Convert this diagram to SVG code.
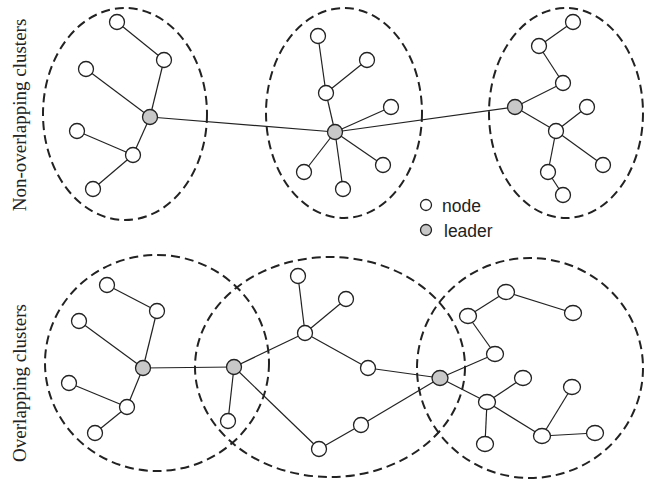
<svg xmlns="http://www.w3.org/2000/svg" width="652" height="481" viewBox="0 0 652 481">
<style>
.cl{fill:none;stroke:#222;stroke-width:2;stroke-dasharray:9,5}
.e line{stroke:#222;stroke-width:1.2}
.n{fill:#fff;stroke:#222;stroke-width:1.3}
.l{fill:#c8c8c8;stroke:#222;stroke-width:1.3}
.side{font-family:"Liberation Serif","Times New Roman",serif;font-size:19px;fill:#222}
.leg{font-family:"Liberation Sans",Arial,sans-serif;font-size:17.5px;fill:#222}
</style>
<rect width="652" height="481" fill="#fff"/>
<g id="clusters">
<ellipse class="cl" cx="125" cy="114" rx="82" ry="106"/>
<ellipse class="cl" cx="344" cy="113" rx="78" ry="105"/>
<ellipse class="cl" cx="566" cy="113" rx="77" ry="105"/>
<ellipse class="cl" cx="157" cy="363" rx="112" ry="108"/>
<ellipse class="cl" cx="330" cy="367" rx="135" ry="110"/>
<ellipse class="cl" cx="530" cy="368" rx="113" ry="110"/>
</g>
<g id="connectors" class="e">
<line x1="117" y1="22" x2="164" y2="60"/>
<line x1="164" y1="60" x2="150" y2="117"/>
<line x1="86" y1="69" x2="150" y2="117"/>
<line x1="150" y1="117" x2="133" y2="155"/>
<line x1="77" y1="131" x2="133" y2="155"/>
<line x1="133" y1="155" x2="93" y2="189"/>
<line x1="150" y1="117" x2="335" y2="132"/>
<line x1="335" y1="132" x2="515" y2="107"/>
<line x1="318" y1="36" x2="326" y2="93"/>
<line x1="367" y1="60" x2="326" y2="93"/>
<line x1="326" y1="93" x2="335" y2="132"/>
<line x1="391" y1="107" x2="335" y2="132"/>
<line x1="335" y1="132" x2="304" y2="172"/>
<line x1="335" y1="132" x2="343" y2="189"/>
<line x1="335" y1="132" x2="383" y2="165"/>
<line x1="573" y1="22" x2="539" y2="46"/>
<line x1="539" y1="46" x2="563" y2="83"/>
<line x1="563" y1="83" x2="515" y2="107"/>
<line x1="515" y1="107" x2="556" y2="131"/>
<line x1="587" y1="107" x2="556" y2="131"/>
<line x1="556" y1="131" x2="603" y2="165"/>
<line x1="556" y1="131" x2="548" y2="172"/>
<line x1="548" y1="172" x2="563" y2="195"/>
<line x1="107" y1="285" x2="157" y2="311"/>
<line x1="157" y1="311" x2="143" y2="368"/>
<line x1="79" y1="321" x2="143" y2="368"/>
<line x1="143" y1="368" x2="127" y2="407"/>
<line x1="69" y1="383" x2="127" y2="407"/>
<line x1="127" y1="407" x2="95" y2="433"/>
<line x1="143" y1="368" x2="234" y2="367"/>
<line x1="298" y1="276" x2="305" y2="333"/>
<line x1="346" y1="299" x2="305" y2="333"/>
<line x1="305" y1="333" x2="234" y2="367"/>
<line x1="305" y1="333" x2="368" y2="368"/>
<line x1="368" y1="368" x2="440" y2="378"/>
<line x1="234" y1="367" x2="228" y2="421"/>
<line x1="234" y1="367" x2="319" y2="449"/>
<line x1="319" y1="449" x2="361" y2="425"/>
<line x1="361" y1="425" x2="440" y2="378"/>
<line x1="506" y1="292" x2="573" y2="313"/>
<line x1="506" y1="292" x2="468" y2="316"/>
<line x1="468" y1="316" x2="495" y2="354"/>
<line x1="495" y1="354" x2="440" y2="378"/>
<line x1="440" y1="378" x2="487" y2="402"/>
<line x1="523" y1="378" x2="487" y2="402"/>
<line x1="487" y1="402" x2="485" y2="444"/>
<line x1="487" y1="402" x2="542" y2="436"/>
<line x1="572" y1="387" x2="542" y2="436"/>
<line x1="542" y1="436" x2="595" y2="433"/>
</g>
<g id="nodes-top-left">
<circle class="n" cx="117" cy="22" r="7.5"/>
<circle class="n" cx="164" cy="60" r="7.5"/>
<circle class="n" cx="86" cy="69" r="7.5"/>
<circle class="l" cx="150" cy="117" r="7.5"/>
<circle class="n" cx="77" cy="131" r="7.5"/>
<circle class="n" cx="133" cy="155" r="7.5"/>
<circle class="n" cx="93" cy="189" r="7.5"/>
</g>
<g id="nodes-top-middle">
<circle class="n" cx="318" cy="36" r="7.5"/>
<circle class="n" cx="367" cy="60" r="7.5"/>
<circle class="n" cx="326" cy="93" r="7.5"/>
<circle class="n" cx="391" cy="107" r="7.5"/>
<circle class="l" cx="335" cy="132" r="7.5"/>
<circle class="n" cx="304" cy="172" r="7.5"/>
<circle class="n" cx="343" cy="189" r="7.5"/>
<circle class="n" cx="383" cy="165" r="7.5"/>
</g>
<g id="nodes-top-right">
<circle class="n" cx="573" cy="22" r="7.5"/>
<circle class="n" cx="539" cy="46" r="7.5"/>
<circle class="n" cx="563" cy="83" r="7.5"/>
<circle class="l" cx="515" cy="107" r="7.5"/>
<circle class="n" cx="587" cy="107" r="7.5"/>
<circle class="n" cx="556" cy="131" r="7.5"/>
<circle class="n" cx="603" cy="165" r="7.5"/>
<circle class="n" cx="548" cy="172" r="7.5"/>
<circle class="n" cx="563" cy="195" r="7.5"/>
</g>
<g id="nodes-bottom-left">
<circle class="n" cx="107" cy="285" r="7.5"/>
<circle class="n" cx="157" cy="311" r="7.5"/>
<circle class="n" cx="79" cy="321" r="7.5"/>
<circle class="l" cx="143" cy="368" r="7.5"/>
<circle class="n" cx="69" cy="383" r="7.5"/>
<circle class="n" cx="127" cy="407" r="7.5"/>
<circle class="n" cx="95" cy="433" r="7.5"/>
</g>
<g id="nodes-bottom-middle">
<circle class="n" cx="298" cy="276" r="7.5"/>
<circle class="n" cx="346" cy="299" r="7.5"/>
<circle class="n" cx="305" cy="333" r="7.5"/>
<circle class="l" cx="234" cy="367" r="7.5"/>
<circle class="n" cx="368" cy="368" r="7.5"/>
<circle class="n" cx="228" cy="421" r="7.5"/>
<circle class="n" cx="361" cy="425" r="7.5"/>
<circle class="n" cx="319" cy="449" r="7.5"/>
</g>
<g id="nodes-bottom-right">
<ellipse class="l" cx="440" cy="378" rx="8" ry="7.5"/>
<ellipse class="n" cx="506" cy="292" rx="8.5" ry="7.5"/>
<ellipse class="n" cx="573" cy="313" rx="8.5" ry="7.5"/>
<ellipse class="n" cx="468" cy="316" rx="8.5" ry="7.5"/>
<ellipse class="n" cx="495" cy="354" rx="8.5" ry="7.5"/>
<ellipse class="n" cx="523" cy="378" rx="8.5" ry="7.5"/>
<ellipse class="n" cx="572" cy="387" rx="8.5" ry="7.5"/>
<ellipse class="n" cx="487" cy="402" rx="8.5" ry="7.5"/>
<ellipse class="n" cx="542" cy="436" rx="8.5" ry="7.5"/>
<ellipse class="n" cx="595" cy="433" rx="8.5" ry="7.5"/>
<ellipse class="n" cx="485" cy="444" rx="8.5" ry="7.5"/>
</g>
<g id="legend">
<circle class="n" cx="426" cy="205" r="5.5"/>
<text class="leg" x="442" y="212">node</text>
<circle class="l" cx="426" cy="230" r="5.5"/>
<text class="leg" x="444" y="237">leader</text>
</g>
<g id="labels">
<text class="side" transform="translate(26,115) rotate(-90)" text-anchor="middle">Non-overlapping clusters</text>
<text class="side" transform="translate(26,383) rotate(-90)" text-anchor="middle">Overlapping clusters</text>
</g>
</svg>
